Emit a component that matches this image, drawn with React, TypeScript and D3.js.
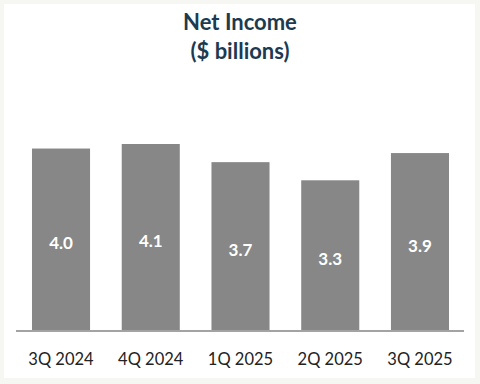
import React from 'react'
import * as d3 from 'd3'

const categories = ['3Q 2024', '4Q 2024', '1Q 2025', '2Q 2025', '3Q 2025']
const netIncome = [4.0, 4.1, 3.7, 3.3, 3.9]
const titleLines = ['Net Income', '($ billions)']

const width = 480
const height = 384

const App = () => {
  const x = d3.scaleBand<string>()
    .domain(categories)
    .range([17, 464])
    .paddingInner(0.353)
    .paddingOuter(0.167)

  const y = d3.scaleLinear()
    .domain([0, d3.max(netIncome) as number])
    .range([330, 144])

  const fmt = d3.format('.1f')

  return (
    <svg width={width} height={height} style={{ position: 'absolute', left: 0, top: 0 }}
      fontFamily="Lato, 'Noto Sans', sans-serif">
      <rect x={0} y={0} width={width} height={height} fill="#f6f6f3" />
      <rect x={4} y={4} width={471} height={374} fill="#ffffff" />

      {titleLines.map((t, i) => (
        <text key={t} x={240} y={30 + i * 29} textAnchor="middle"
          fontSize={22} fontWeight="bold" fill="#1c3a50">{t}</text>
      ))}

      {netIncome.map((v, i) => {
        const bx = x(categories[i]) as number
        const top = y(v)
        return (
          <g key={categories[i]}>
            <rect x={bx} y={top} width={x.bandwidth()} height={y(0) - top} fill="#878787" />
            <text x={bx + x.bandwidth() / 2} y={(top + y(0)) / 2 + 10} textAnchor="middle"
              fontSize={17} fontWeight="bold" fill="#ffffff">{fmt(v)}</text>
          </g>
        )
      })}

      <line x1={16} x2={464} y1={y(0) + 1} y2={y(0) + 1} stroke="#a3a3a3" strokeWidth={2} />

      {categories.map(c => (
        <text key={c} x={(x(c) as number) + x.bandwidth() / 2} y={365} textAnchor="middle"
          fontSize={16.5} fill="#222222">{c}</text>
      ))}
    </svg>
  )
}

export default App
